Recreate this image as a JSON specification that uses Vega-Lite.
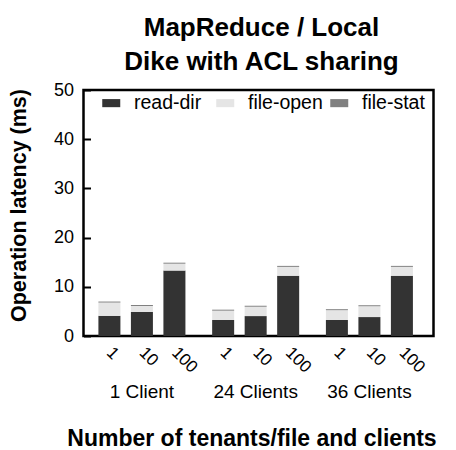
{
  "$schema": "https://vega.github.io/schema/vega-lite/v6.json",
  "width": 350,
  "height": 246,
  "autosize": "none",
  "padding": {"left": 83.5, "top": 90, "right": 22.5, "bottom": 114},
  "background": "white",
  "config": {
    "font": "Liberation Sans",
    "view": {"stroke": "black", "strokeWidth": 2.5}
  },
  "title": {
    "text": ["MapReduce / Local", "Dike with ACL sharing"],
    "fontSize": 26,
    "fontWeight": "bold",
    "color": "black",
    "lineHeight": 34,
    "offset": 6,
    "dx": 3,
    "anchor": "middle"
  },
  "data": {
    "values": [
      {"group": "1 Client", "tenants": "1", "op": "read-dir", "ord": 1, "value": 4.1},
      {"group": "1 Client", "tenants": "1", "op": "file-open", "ord": 2, "value": 2.7},
      {"group": "1 Client", "tenants": "1", "op": "file-stat", "ord": 3, "value": 0.2},
      {"group": "1 Client", "tenants": "10", "op": "read-dir", "ord": 1, "value": 4.9},
      {"group": "1 Client", "tenants": "10", "op": "file-open", "ord": 2, "value": 1.2},
      {"group": "1 Client", "tenants": "10", "op": "file-stat", "ord": 3, "value": 0.2},
      {"group": "1 Client", "tenants": "100", "op": "read-dir", "ord": 1, "value": 13.3},
      {"group": "1 Client", "tenants": "100", "op": "file-open", "ord": 2, "value": 1.4},
      {"group": "1 Client", "tenants": "100", "op": "file-stat", "ord": 3, "value": 0.2},
      {"group": "24 Clients", "tenants": "1", "op": "read-dir", "ord": 1, "value": 3.25},
      {"group": "24 Clients", "tenants": "1", "op": "file-open", "ord": 2, "value": 1.9},
      {"group": "24 Clients", "tenants": "1", "op": "file-stat", "ord": 3, "value": 0.2},
      {"group": "24 Clients", "tenants": "10", "op": "read-dir", "ord": 1, "value": 4.05},
      {"group": "24 Clients", "tenants": "10", "op": "file-open", "ord": 2, "value": 1.9},
      {"group": "24 Clients", "tenants": "10", "op": "file-stat", "ord": 3, "value": 0.2},
      {"group": "24 Clients", "tenants": "100", "op": "read-dir", "ord": 1, "value": 12.25},
      {"group": "24 Clients", "tenants": "100", "op": "file-open", "ord": 2, "value": 1.8},
      {"group": "24 Clients", "tenants": "100", "op": "file-stat", "ord": 3, "value": 0.2},
      {"group": "36 Clients", "tenants": "1", "op": "read-dir", "ord": 1, "value": 3.25},
      {"group": "36 Clients", "tenants": "1", "op": "file-open", "ord": 2, "value": 2.0},
      {"group": "36 Clients", "tenants": "1", "op": "file-stat", "ord": 3, "value": 0.2},
      {"group": "36 Clients", "tenants": "10", "op": "read-dir", "ord": 1, "value": 3.85},
      {"group": "36 Clients", "tenants": "10", "op": "file-open", "ord": 2, "value": 2.2},
      {"group": "36 Clients", "tenants": "10", "op": "file-stat", "ord": 3, "value": 0.2},
      {"group": "36 Clients", "tenants": "100", "op": "read-dir", "ord": 1, "value": 12.25},
      {"group": "36 Clients", "tenants": "100", "op": "file-open", "ord": 2, "value": 1.8},
      {"group": "36 Clients", "tenants": "100", "op": "file-stat", "ord": 3, "value": 0.2}
    ]
  },
  "encoding": {
    "x": {
      "field": "group",
      "type": "nominal",
      "sort": ["1 Client", "24 Clients", "36 Clients"],
      "scale": {"paddingInner": 0.235, "paddingOuter": 0.156, "align": 0.42},
      "axis": {
        "title": "Number of tenants/file and clients",
        "titleFontSize": 23,
        "titleFontWeight": "bold",
        "titleColor": "black",
        "titlePadding": 26,
        "titleX": 168,
        "labelAngle": 0,
        "labelFontSize": 19,
        "labelColor": "black",
        "labelPadding": 46,
        "ticks": false,
        "domain": false
      }
    },
    "xOffset": {
      "field": "tenants",
      "type": "nominal",
      "sort": ["1", "10", "100"],
      "scale": {"paddingInner": 0.323, "paddingOuter": 0}
    }
  },
  "layer": [
    {
      "mark": {"type": "bar"},
      "encoding": {
        "y": {
          "field": "value",
          "type": "quantitative",
          "stack": "zero",
          "scale": {"domain": [0, 50], "nice": false},
          "axis": {
            "title": "Operation latency (ms)",
            "titleFontSize": 21.5,
            "titleFontWeight": "bold",
            "titleColor": "black",
            "titlePadding": 23,
            "titleY": 115,
            "values": [0, 10, 20, 30, 40, 50],
            "labelFontSize": 18,
            "labelColor": "black",
            "offset": -7,
            "ticks": true,
            "tickSize": 7,
            "tickColor": "black",
            "tickWidth": 2,
            "labelPadding": 10,
            "domain": false,
            "grid": false
          }
        },
        "color": {
          "field": "op",
          "type": "nominal",
          "scale": {"domain": ["read-dir", "file-open", "file-stat"], "range": ["#333333", "#e5e5e5", "#808080"]},
          "legend": {
            "title": null,
            "orient": "none",
            "legendX": 18,
            "legendY": 3,
            "direction": "horizontal",
            "columns": 3,
            "gridAlign": "all",
            "columnPadding": 6,
            "symbolType": "M-1,-0.45L1,-0.45L1,0.45L-1,0.45Z",
            "symbolSize": 324,
            "symbolStrokeWidth": 0,
            "labelFontSize": 19.5,
            "labelColor": "black",
            "labelOffset": 13,
            "padding": 0
          }
        },
        "order": {"field": "ord", "type": "quantitative"}
      }
    },
    {
      "transform": [{"filter": "datum.op === 'read-dir'"}],
      "mark": {"type": "text", "angle": 45, "align": "left", "baseline": "middle", "dx": 10, "dy": 10, "fontSize": 17, "color": "black"},
      "encoding": {
        "y": {"datum": 0},
        "text": {"field": "tenants"}
      }
    }
  ]
}
